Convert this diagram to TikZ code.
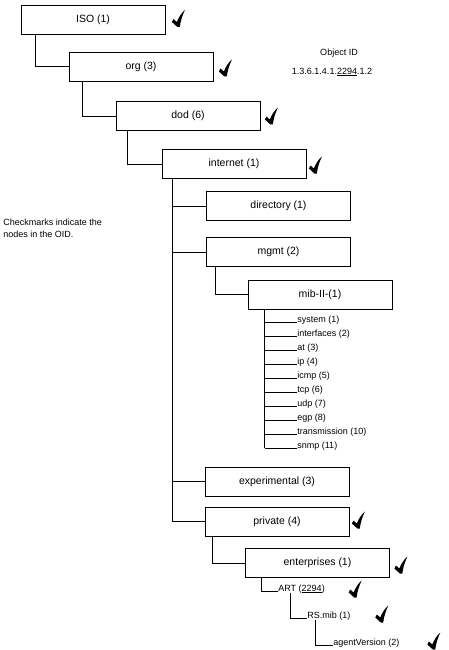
\documentclass[tikz,border=0pt]{standalone}
\usepackage{fontspec}
\setmainfont{Liberation Sans}
\usetikzlibrary{calc}

\begin{document}
\begin{tikzpicture}[x=1pt, y=-1pt, line width=0.8pt,
oidbox/.style={draw, minimum width=144pt, minimum height=29pt, inner sep=0pt, font=\fontsize{10.5}{12}\selectfont},
leaf/.style={anchor=base west, inner sep=0pt, font=\fontsize{9}{10}\selectfont},
note/.style={inner sep=0pt, font=\fontsize{9}{12}\selectfont},
oidcheck/.pic={
	\fill (0,0.5) -- (-5.5,-4.5) -- (-4,-7.5) -- (-0.6,-4.5) .. controls (1.5,-9.5) and (4,-13.5) ..
	(7.5,-16.5) .. controls (5,-11) and (3.2,-6) .. (2.4,0.5) -- cycle;}
]
\useasboundingbox (0,0) rectangle (449,650);

\node[oidbox] (iso) at (93,19.5) {ISO (1)};
\node[oidbox] (org) at (141,66.5) {org (3)};
\node[oidbox] (dod) at (188,116) {dod (6)};
\node[oidbox] (internet) at (234,164) {internet (1)};
\node[oidbox] (directory) at (278.5,206) {directory (1)};
\node[oidbox] (mgmt) at (278.5,252) {mgmt (2)};
\node[oidbox] (mib) at (320,294.5) {mib-II-(1)};
\node[oidbox] (experimental) at (277,481.5) {experimental (3)};
\node[oidbox] (private) at (277,521.5) {private (4)};
\node[oidbox] (enterprises) at (317.5,563) {enterprises (1)};

\node[leaf] (art) at (278,591) {ART (\underline{2294})};
\node[leaf] (rsmib) at (307,618) {RS.mib (1)};
\node[leaf] (agent) at (333,645) {agentVersion (2)};

\node[note] (objid) at (339,53) {Object ID};
\node[note] (oid) at (332,72) {1.3.6.1.4.1.\underline{2294}.1.2};
\node[note, anchor=west, align=left] (legend) at (3,228) {Checkmarks indicate the\\nodes in the OID.};

% tree lines
\draw ([xshift=15pt]iso.south west) |- (org.west);
\draw ([xshift=14pt]org.south west) |- (dod.west);
\draw ([xshift=12pt]dod.south west) |- (internet.west);
\coordinate (trunk) at ([xshift=11pt]internet.south west);
\draw (trunk) |- (private.west);
\draw (trunk |- directory.west) -- (directory.west);
\draw (trunk |- mgmt.west) -- (mgmt.west);
\draw (trunk |- experimental.west) -- (experimental.west);
\draw ([xshift=9pt]mgmt.south west) |- (mib.west);
\draw ([xshift=8pt]private.south west) |- (enterprises.west);

\coordinate (mibtrunk) at ([xshift=17pt]mib.south west);
\foreach \name [count=\i from 0] in {system (1), interfaces (2), at (3), ip (4), icmp (5),
	tcp (6), udp (7), egp (8), transmission (10), snmp (11)}
{
	\node[leaf] (leaf\i) at (297,322+14*\i) {\name};
	\draw (mibtrunk |- leaf\i.base west) -- (leaf\i.base west);
}
\draw (mibtrunk) -- (mibtrunk |- leaf9.base west);

\draw ([xshift=16pt]enterprises.south west) |- (art.base west);
\draw ([xshift=12pt]art.south west) |- (rsmib.base west);
\draw ([xshift=8pt]rsmib.south west) |- (agent.base west);

% checkmarks
\pic at ([shift={(12,7)}]iso.east) {oidcheck};
\pic at ([shift={(11,9.5)}]org.east) {oidcheck};
\pic at ([shift={(10,8)}]dod.east) {oidcheck};
\pic at ([shift={(8,9)}]internet.east) {oidcheck};
\pic at ([shift={(8,6.5)}]private.east) {oidcheck};
\pic at ([shift={(10,10)}]enterprises.east) {oidcheck};
\pic at ([shift={(29,6)}]art.base east) {oidcheck};
\pic at ([shift={(30,4)}]rsmib.base east) {oidcheck};
\pic at ([shift={(33,4)}]agent.base east) {oidcheck};
\end{tikzpicture}
\end{document}
